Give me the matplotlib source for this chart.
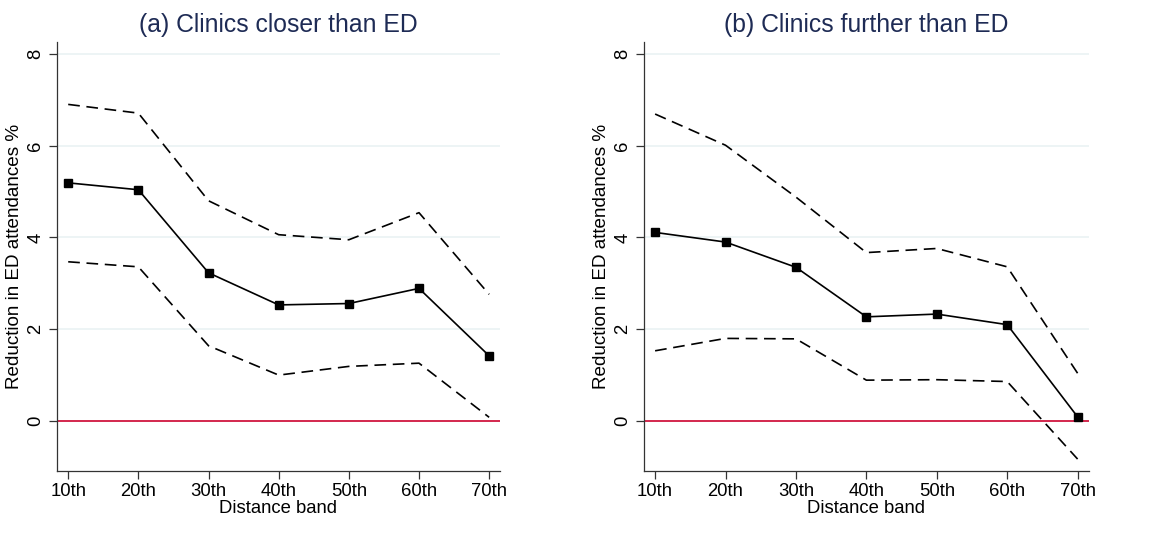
import numpy as np
import matplotlib
matplotlib.use("Agg")
import matplotlib.pyplot as plt

plt.rcParams['font.family'] = ['Liberation Sans', 'DejaVu Sans']

bands = ['10th', '20th', '30th', '40th', '50th', '60th', '70th']

# (a) clinics closer than ED
closer_est = [5.19, 5.04, 3.23, 2.53, 2.56, 2.89, 1.42]
closer_hi = [6.90, 6.71, 4.80, 4.06, 3.95, 4.54, 2.76]
closer_lo = [3.47, 3.36, 1.64, 1.00, 1.19, 1.26, 0.08]

# (b) clinics further than ED
further_est = [4.11, 3.90, 3.35, 2.27, 2.33, 2.10, 0.09]
further_hi = [6.69, 6.01, 4.88, 3.67, 3.76, 3.36, 1.04]
further_lo = [1.53, 1.80, 1.79, 0.89, 0.90, 0.86, -0.83]

titles = ['(a) Clinics closer than ED', '(b) Clinics further than ED']

fig = plt.figure(figsize=(11.58, 5.42), dpi=100)
ax_a = fig.add_axes([0.0492, 0.131, 0.3826, 0.7915])
ax_b = fig.add_axes([0.556, 0.131, 0.384, 0.7915])

x = np.arange(1, len(bands) + 1)
for ax, est, hi, lo, ttl in [(ax_a, closer_est, closer_hi, closer_lo, titles[0]),
                             (ax_b, further_est, further_hi, further_lo, titles[1])]:
    for yv in [2, 4, 6, 8]:
        ax.axhline(yv, color='#eaf2f3', lw=1.2, zorder=0)
    ax.axhline(0, color='#d0163f', lw=1.3, zorder=1)
    ax.plot(x, hi, color='black', lw=1.2, dashes=(7, 4), zorder=2)
    ax.plot(x, lo, color='black', lw=1.2, dashes=(7, 4), zorder=2)
    ax.plot(x, est, color='black', lw=1.2, marker='s', markersize=5.5, zorder=3)

    ax.set_xlim(0.84, 7.155)
    ax.set_ylim(-1.09, 8.26)
    ax.set_xticks(x)
    ax.set_xticklabels(bands)
    ax.set_yticks([0, 2, 4, 6, 8])
    ax.set_yticklabels(['0', '2', '4', '6', '8'], rotation=90, va='center')
    ax.tick_params(axis='both', labelsize=13.3, length=6, width=0.9, color='#333333', pad=3)
    for s in ['top', 'right']:
        ax.spines[s].set_visible(False)
    for s in ['left', 'bottom']:
        ax.spines[s].set_color('#333333')
        ax.spines[s].set_linewidth(0.9)
    ax.set_xlabel('Distance band', fontsize=13.3, labelpad=0)
    ax.set_ylabel('Reduction in ED attendances %', fontsize=13.6, labelpad=3)
    ax.set_title(ttl, fontsize=17.8, color='#1e2b55', pad=7)

fig.savefig('out.png', dpi=100)
